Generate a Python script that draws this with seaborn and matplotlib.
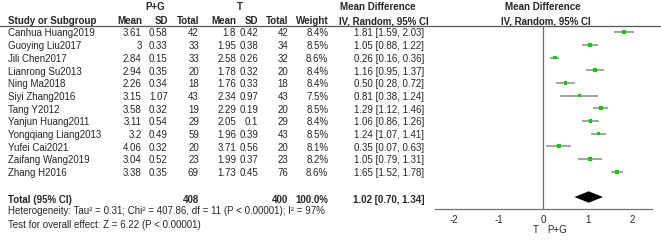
import matplotlib
matplotlib.use("Agg")
import matplotlib.pyplot as plt
import seaborn as sns
import pandas as pd
import numpy as np

studies = ["Canhua Huang2019", "Guoying Liu2017", "Jili Chen2017", "Lianrong Su2013",
           "Ning Ma2018", "Siyi Zhang2016", "Tang Y2012", "Yanjun Huang2011",
           "Yongqiang Liang2013", "Yufei Cai2021", "Zaifang Wang2019", "Zhang H2016"]
pg_mean = ["3.61", "3", "2.84", "2.94", "2.26", "3.15", "3.58", "3.11", "3.2", "4.06", "3.04", "3.38"]
pg_sd = ["0.58", "0.33", "0.15", "0.35", "0.34", "1.07", "0.32", "0.54", "0.49", "0.32", "0.52", "0.35"]
pg_n = [42, 33, 33, 20, 18, 43, 19, 29, 59, 20, 23, 69]
t_mean = ["1.8", "1.95", "2.58", "1.78", "1.76", "2.34", "2.29", "2.05", "1.96", "3.71", "1.99", "1.73"]
t_sd = ["0.42", "0.38", "0.26", "0.32", "0.33", "0.97", "0.19", "0.1", "0.39", "0.56", "0.37", "0.45"]
t_n = [42, 34, 32, 20, 18, 43, 20, 29, 43, 20, 23, 76]
weight = [8.4, 8.5, 8.6, 8.4, 8.4, 7.5, 8.5, 8.4, 8.5, 8.1, 8.2, 8.6]
md = [1.81, 1.05, 0.26, 1.16, 0.50, 0.81, 1.29, 1.06, 1.24, 0.35, 1.05, 1.65]
lo = [1.59, 0.88, 0.16, 0.95, 0.28, 0.38, 1.12, 0.86, 1.07, 0.07, 0.79, 1.52]
hi = [2.03, 1.22, 0.36, 1.37, 0.72, 1.24, 1.46, 1.26, 1.41, 0.63, 1.31, 1.78]
total_md, total_lo, total_hi = 1.02, 0.70, 1.34
total_pg_n, total_t_n = 408, 400
x_ticks = [-2, -1, 0, 1, 2]

sns.set_style("white")
plt.rcParams["font.family"] = ["Liberation Sans", "DejaVu Sans"]

W, H = 661, 241
fig = plt.figure(figsize=(W / 100, H / 100), dpi=100)

# Table layer in pixel coordinates
tab = fig.add_axes([0, 0, 1, 1])
tab.set_xlim(0, W)
tab.set_ylim(H, 0)
tab.axis("off")

row0, step = 32.3, 12.67
fs = 7.0
def ry(i):
    return row0 + step * i + 1.2

bold = dict(fontsize=fs, fontweight="bold", va="center")
norm = dict(fontsize=fs, va="center")

# Headers
tab.text(155, 7.5, "P+G", ha="center", **bold)
tab.text(240, 7.5, "T", ha="center", **bold)
tab.text(378, 7.5, "Mean Difference", ha="center", **bold)
tab.text(543, 7.5, "Mean Difference", ha="center", **bold)
tab.text(8, 21.5, "Study or Subgroup", ha="left", **bold)
for xr, lab in [(142, "Mean"), (168, "SD"), (199, "Total"), (236, "Mean"),
                (258.5, "SD"), (288.5, "Total"), (328.5, "Weight")]:
    tab.text(xr, 21.5, lab, ha="right", **bold)
tab.text(339, 21.5, "IV, Random, 95% CI", ha="left", **bold)
tab.text(546, 21.5, "IV, Random, 95% CI", ha="center", **bold)
tab.plot([0, 660], [26.3, 26.3], color="#555555", lw=0.9)

for i, s in enumerate(studies):
    y = ry(i)
    tab.text(8, y, s, ha="left", **norm)
    tab.text(141.7, y, pg_mean[i], ha="right", **norm)
    tab.text(167.7, y, pg_sd[i], ha="right", **norm)
    tab.text(199, y, str(pg_n[i]), ha="right", **norm)
    tab.text(236, y, t_mean[i], ha="right", **norm)
    tab.text(258.3, y, t_sd[i], ha="right", **norm)
    tab.text(288.3, y, str(t_n[i]), ha="right", **norm)
    tab.text(328.3, y, f"{weight[i]:.1f}%", ha="right", **norm)
    tab.text(424.3, y, f"{md[i]:.2f} [{lo[i]:.2f}, {hi[i]:.2f}]", ha="right", **norm)

yt = ry(13) + 1.5
tab.text(8, yt, "Total (95% CI)", ha="left", **bold)
tab.text(199, yt, str(total_pg_n), ha="right", **bold)
tab.text(288.3, yt, str(total_t_n), ha="right", **bold)
tab.text(328.3, yt, "100.0%", ha="right", **bold)
tab.text(424.3, yt, f"{total_md:.2f} [{total_lo:.2f}, {total_hi:.2f}]", ha="right", **bold)
tab.text(8, 210.5, "Heterogeneity: Tau² = 0.31; Chi² = 407.86, df = 11 (P < 0.00001); I² = 97%",
         ha="left", **norm)
tab.text(8, 225.5, "Test for overall effect: Z = 6.22 (P < 0.00001)", ha="left", **norm)
tab.text(539, 230, "T", ha="right", **norm)
tab.text(547.5, 230, "P+G", ha="left", **norm)

# Forest plot axes
x0, x1 = 435.0, 651.7
ytop, ybot = 26.3, 209.0
ax = fig.add_axes([x0 / W, 1 - ybot / H, (x1 - x0) / W, (ybot - ytop) / H])
ax.patch.set_alpha(0)
zero_px = 543.3
ppu = 44.5
ax.set_xlim((x0 - zero_px) / ppu, (x1 - zero_px) / ppu)
ylo = (ytop - row0) / step
yhi = (ybot - row0) / step
ax.set_ylim(yhi, ylo)

df = pd.DataFrame({"row": np.arange(len(studies)), "md": md, "lo": lo, "hi": hi})
ax.hlines(df["row"], df["lo"], df["hi"], color="#8c8c8c", lw=1.1, zorder=2)
sns.scatterplot(data=df, x="md", y="row", marker="s", s=7, color="#00cc00",
                edgecolor="none", linewidth=0, ax=ax, zorder=3, legend=False)
ax.axvline(0, color="#707070", lw=0.9, zorder=1)
tr = 13
dh = 0.45
ax.fill([total_lo, total_md, total_hi, total_md], [tr, tr - dh, tr, tr + dh],
        color="black", zorder=4, lw=0)

for sp in ["top", "left", "right"]:
    ax.spines[sp].set_visible(False)
ax.spines["bottom"].set_color("#707070")
ax.spines["bottom"].set_linewidth(0.9)
ax.set_xticks(x_ticks)
ax.set_xticklabels([str(t) for t in x_ticks], fontsize=fs)
ax.set_yticks([])
ax.tick_params(axis="x", direction="out", length=3.5, width=0.9, color="#707070", pad=1.0)
ax.set_xlabel("")
ax.set_ylabel("")

fig.savefig("out.png", dpi=100)
